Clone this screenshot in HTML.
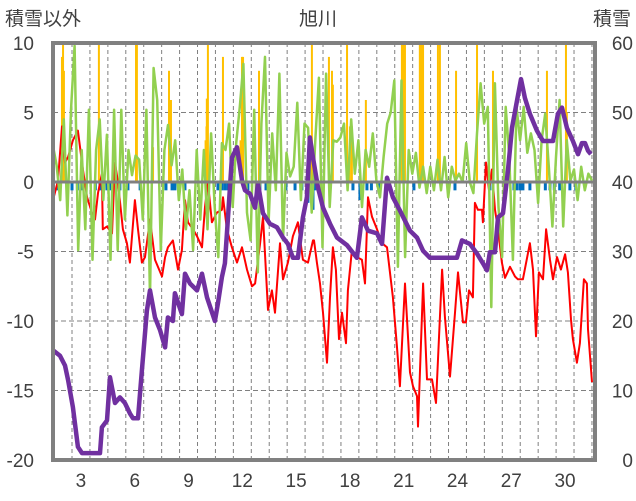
<!DOCTYPE html>
<html><head><meta charset="utf-8">
<style>
html,body{margin:0;padding:0;background:#fff;}
svg{display:block;font-family:"Liberation Sans","Noto Sans CJK JP",sans-serif;}
</style></head>
<body>
<svg id="chart" width="636" height="501" viewBox="0 0 636 501">
<text x="5" y="25" font-size="19" fill="#404040">積雪以外</text>
<text x="318" y="25" font-size="19" fill="#404040" text-anchor="middle">旭川</text>
<text x="631" y="25" font-size="19" fill="#404040" text-anchor="end">積雪</text>
<g id="grid"></g>
<g id="bars"></g>
<g id="lines"></g>
<g id="axes"></g>
</svg>
<script>
const leftTicks=[10,5,0,-5,-10,-15,-20];
const rightTicks=[60,50,40,30,20,10,0];
const dayLabels=[3,6,9,12,15,18,21,24,27,30];
const snowDays=[1.44,1.83,2.11,2.28,2.55,2.83,3.06,4.06,4.17,4.45,4.62,4.9,5.17,5.45,5.73,5.9,6.18,6.4,6.68,6.85,7.13,7.41,7.69,7.85,8.13,8.24,8.63,8.8,9.08,9.47,9.75,10.03,10.47,10.64,10.86,11.03,11.2,11.42,11.7,11.98,12.15,12.43,12.71,12.87,13.15,13.54,13.93,14.27,14.54,14.82,15.1,15.38,15.6,15.77,15.94,16.22,16.5,16.89,17.28,17.84,18.39,18.67,19.01,19.51,19.79,20.07,20.4,20.79,21.35,21.74,22.08,22.46,22.86,23.19,23.97,24.25,24.69,25.09,25.42,25.64,25.81,26.09,26.26,26.54,26.81,27.04,27.32,27.54,27.76,28.04,28.43,28.77,29.33,29.6,29.83,30.1,30.44,30.72,30.94,31.11,31.28,31.44];
const snowVals=[15.8,15,13.6,11.5,7.6,1.9,1,1,4.7,5.7,11.9,8.2,9,8.2,6.7,6,6,12.9,21.5,24.4,20.5,18.7,16.2,20.5,20,24,21,26.8,25.4,24.4,26.8,23.4,20,22.5,26.3,28.3,34.9,43.5,45,40.2,38.8,38.3,36.3,39.8,35.5,34,33.5,32,31.1,29.1,29.1,34.9,37.8,46.4,43.5,39.2,36.3,34,32,30.9,29.1,34.9,33,32.6,31.1,40.6,37.8,35.9,33,32,30.1,29.1,29.1,29.1,29.1,31.6,31.1,29.7,28.3,27.3,29.9,29.9,34.9,35.5,41.6,47.8,51.7,54.8,52.1,49.8,47.4,45.9,45.9,49.8,50.7,47.8,45.9,44,45.6,45.6,44.5,44];
const tempDays=[1.44,1.72,1.94,2.11,2.28,2.55,2.83,3.11,3.34,3.61,3.78,3.95,4.17,4.22,4.45,4.73,4.9,5.06,5.34,5.56,5.73,6.01,6.18,6.4,6.57,6.85,7.13,7.52,7.69,7.85,8.13,8.41,8.63,8.8,8.97,9.25,9.47,9.75,9.92,10.08,10.3,10.58,10.86,10.92,11.14,11.42,11.7,11.98,12.26,12.54,12.71,12.99,13.15,13.43,13.65,13.82,14.1,14.27,14.54,14.82,15.1,15.38,15.66,15.94,16.0,16.16,16.33,16.5,16.72,16.89,17.05,17.22,17.39,17.56,17.78,17.89,18.11,18.39,18.67,18.84,19.01,19.23,19.51,19.79,20.07,20.4,20.62,20.79,21.07,21.35,21.52,21.74,21.8,22.08,22.3,22.58,22.8,23.14,23.3,23.58,23.86,24.03,24.31,24.47,24.64,24.86,24.97,25.14,25.37,25.42,25.59,25.76,25.92,26.09,26.26,26.48,26.65,26.93,27.21,27.37,27.65,28.04,28.21,28.38,28.54,28.77,28.94,29.16,29.33,29.55,29.77,30.0,30.16,30.33,30.44,30.66,30.83,31.05,31.22,31.28,31.5];
const tempVals=[-1.3,0.1,4,1.4,1.8,3,3.7,0.9,-1.1,-2.2,-2.7,-0.8,0.6,-3.4,-3.2,-3.7,1.4,0,-3.4,-4.4,-5.8,-1.3,-3.4,-5.8,-5.4,-2.7,-5.6,-6.8,-5.4,-4.7,-4.2,-6.3,-4.9,-1.3,-2.9,-3.4,-3.9,-4.7,-1.8,0,-2.9,-2.2,-2,-1.1,-3.4,-4.7,-5.8,-4.7,-6.3,-7.5,-7.3,-4.4,-2.5,-9.2,-7.8,-9.4,-4.4,-7,-5.8,-3.9,-2.9,-5.6,-5.8,-4.2,-4.2,-5.8,-7.3,-9.4,-13,-8.3,-4.7,-6.3,-11.3,-9.4,-11.6,-7.8,-4.9,-5.4,-5.6,-7.3,-1.1,-2.5,-3.4,-4.4,-4.7,-8.3,-11.8,-14.7,-7.3,-13.7,-14.7,-15.4,-17.6,-7.3,-14.2,-14.2,-15.9,-6.3,-9.7,-14,-9.4,-6.5,-10.1,-10.1,-7.8,-8.3,-1.5,-2,-2,-2.9,1.4,-0.6,0.9,-2,-3.4,-5.8,-6.9,-6.1,-6.8,-7,-7,-4.4,-6.3,-11.1,-6.5,-7,-3.4,-5.6,-7,-5.4,-6.3,-5.2,-6.5,-9.9,-11.3,-13,-11.6,-7,-7.3,-10.6,-14.4];
const greenVals=[2.6,1.2,-1.3,4.5,-2.4,5.2,9.8,-4.9,2.3,-3.4,5.2,-5.6,2.3,4.5,-1.3,3.4,-5.6,5.2,-4.9,5.2,-2.7,2.3,0.5,1.9,1.6,-2.7,5.2,-8.3,8.2,5.9,-4.9,2.3,4.1,1.2,3,-1.3,0.9,-3.4,-0.6,-4.9,2.3,-2.7,2.3,-3.4,3.5,-1.8,-5.4,2.8,2.3,4.2,-1.8,2.8,5.4,8.5,-2.2,-4.2,5.2,-6.5,4.2,9,-2.9,3.5,-0.6,7.8,-4.2,2.1,0.4,1.1,5.7,-1.3,4.2,3.9,-2.2,3,7.5,-4.7,7.8,-1.8,3,2.9,3.2,4.2,-0.6,4.5,0.6,3,-1.8,2.3,1.1,3.5,0.1,-1.1,1.8,4.2,5,7.3,-6.1,7.3,-5.4,2.3,0.6,2.1,-0.4,1.1,-0.8,1.1,-0.6,1.6,-0.6,1.8,-1.1,1.1,0.1,0.6,0,2.8,0,-0.8,3.5,7.1,4.2,5.4,-9,7.1,-1.8,-5.4,5.4,1.8,-5.6,5.4,3,5.4,2.1,3.5,2.3,-1.5,3,4.9,1.1,-3.2,1.8,5.9,-3.2,3,0.1,0.9,-1.3,1.1,-0.6,0.6,0.1];
const precipDays=[1.94,2.0,2.05,4.0,6.07,6.12,7.02,7.91,8.02,9.95,10.0,10.02,10.08,10.92,11.9,11.98,12.04,12.93,15.88,16.83,17.0,17.05,17.84,18.0,18.11,18.89,20.9,20.96,21.01,21.07,21.9,21.96,22.02,22.08,22.91,23.02,23.92,25.09,25.98,28.99,30.05,30.1];
const precipVals=[9,10,8,10,10,10,2.5,8,5.9,3,4,6,10,9,3,9,9,8,10,9,8,7,10,4,4,5.9,10,10,10,10,10,10,10,10,10,10,8,10,8,8,10,5];
const negDays=[1.72,2.5,2.8,3.06,3.8,4.06,4.45,4.6,5.17,5.62,6.3,7.74,8.08,8.24,8.8,10.64,10.86,11.03,11.2,11.42,12.31,12.98,13.32,14.43,14.94,15.32,15.66,15.94,16.05,18.17,18.56,18.95,19.2,19.67,21.57,23.86,25.81,27.15,27.32,27.5,27.65,28.04,28.9,29.16,29.4,29.7,30.27,30.6];
const negVals=[-0.6,-0.6,-0.6,-0.6,-0.6,-0.6,-0.6,-0.6,-0.6,-0.6,-0.6,-0.6,-0.6,-0.6,-0.6,-0.6,-0.6,-0.6,-0.6,-0.6,-0.6,-0.6,-0.6,-0.6,-0.6,-0.6,-1.5,-2,-0.6,-0.6,-1.3,-0.6,-0.6,-0.6,-0.6,-0.6,-0.6,-0.6,-0.6,-0.6,-0.6,-0.6,-0.6,-0.6,-0.6,-0.6,-0.6,-0.6];

const NS='http://www.w3.org/2000/svg';
const L=53,R=595,T=43,B=460;
const DAY0=1.44,DAY1=31.67;
function xs(d){return L+(d-DAY0)*(R-L)/(DAY1-DAY0);}
function yl(v){return B-(v+20)*(B-T)/30;}
function yr(v){return B-v*(B-T)/60;}
function mk(tag,attrs,parent){const e=document.createElementNS(NS,tag);for(const k in attrs)e.setAttribute(k,attrs[k]);parent.appendChild(e);return e;}
const grid=document.getElementById('grid'),bars=document.getElementById('bars'),lines=document.getElementById('lines'),axes=document.getElementById('axes');

for(let k=2;k<=31;k++){const x=xs(k+0.5);const g=mk('line',{x1:x,x2:x,y1:T,y2:B,stroke:'#808080','stroke-width':1,'stroke-dasharray':'4,3'},grid);

}
leftTicks.forEach(v=>{if(v===10||v===-20||v===0)return;const y=yl(v);const g=mk('line',{x1:L,x2:R,y1:y,y2:y,stroke:'#808080','stroke-width':1,'stroke-dasharray':'5,3'},grid);

});

precipDays.forEach((d,i)=>{const v=Math.min(precipVals[i],10);const y=yl(v);const r=mk('rect',{x:xs(d)-1,y:y,width:2,height:yl(0)-y,fill:'#ffc000'},bars);

});
negDays.forEach((d,i)=>{const y=yl(negVals[i]);const r=mk('rect',{x:xs(d)-1.5,y:yl(0),width:3,height:y-yl(0),fill:'#0070c0'},bars);

});

function path(days,vals,yf,color,w,name){let d='';days.forEach((t,i)=>{d+=(i?'L':'M')+xs(t).toFixed(1)+','+yf(vals[i]).toFixed(1);});
const p=mk('path',{d:d,fill:'none',stroke:color,'stroke-width':w,'stroke-linejoin':'round'},lines);

}
path(tempDays,tempVals,yl,'#ff0000',2,'temperature-line');
const greenDays=greenVals.map((v,i)=>DAY0+i*(31.5-DAY0)/(greenVals.length-1));
path(greenDays,greenVals,yl,'#92d050',2.5,'green-series-line');
path(snowDays,snowVals,yr,'#7030a0',4.5,'snow-depth-line');

const z=mk('line',{x1:L,x2:R,y1:yl(0),y2:yl(0),stroke:'#808080','stroke-width':3},axes);


const fr=mk('rect',{x:L,y:T,width:R-L,height:B-T,fill:'none',stroke:'#808080','stroke-width':4},axes);


leftTicks.forEach(v=>{const t=mk('text',{x:34,y:yl(v)+7,'font-size':19,fill:'#404040','text-anchor':'end'},axes);t.textContent=v;

});
rightTicks.forEach(v=>{const t=mk('text',{x:633,y:yr(v)+7,'font-size':19,fill:'#404040','text-anchor':'end'},axes);t.textContent=v;

});
dayLabels.forEach(v=>{const t=mk('text',{x:xs(v),y:487,'font-size':19,fill:'#404040','text-anchor':'middle'},axes);t.textContent=v;

});
</script>
</body></html>
